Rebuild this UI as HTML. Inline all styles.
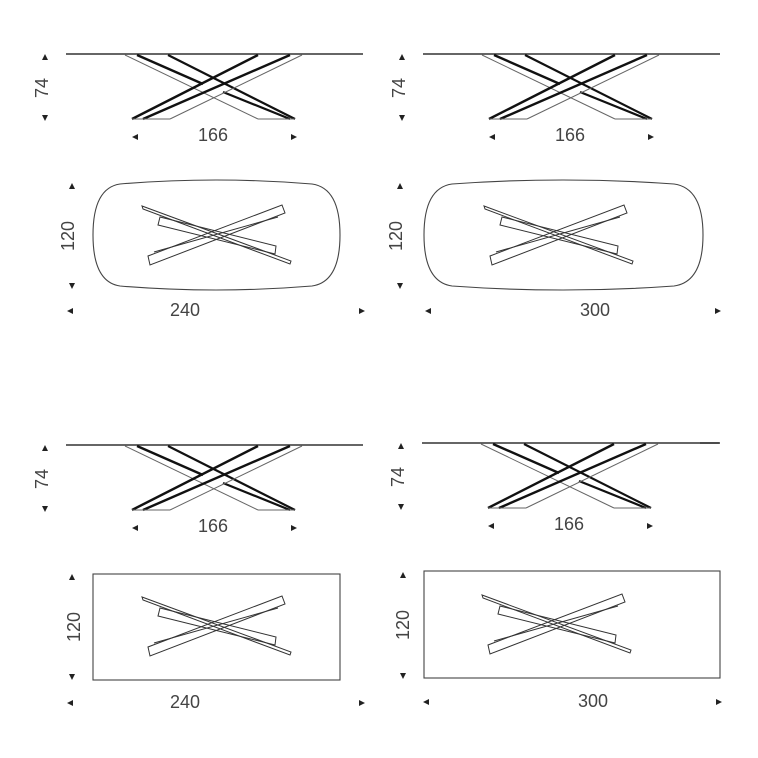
<!DOCTYPE html>
<html><head><meta charset="utf-8"><style>
html,body{margin:0;padding:0;background:#fff;}
svg{display:block;}
text{font-family:"Liberation Sans",sans-serif;fill:#444;font-size:18px;}
</style></head><body>
<svg width="758" height="758" viewBox="0 0 758 758" xmlns="http://www.w3.org/2000/svg">
<defs>
<g id="side">
  <line x1="66" y1="54" x2="363" y2="54" stroke="#333" stroke-width="1.6"/>
  <polyline points="125,55 258,119" fill="none" stroke="#666" stroke-width="1"/>
  <line x1="137" y1="55" x2="203" y2="84" stroke="#111" stroke-width="2.4"/>
  <line x1="168" y1="55" x2="295" y2="119" stroke="#111" stroke-width="2.2"/>
  <line x1="223" y1="92" x2="290" y2="119" stroke="#111" stroke-width="2.2"/>
  <line x1="258" y1="119" x2="295" y2="119" stroke="#666" stroke-width="1"/>
  <line x1="258" y1="55" x2="132" y2="119" stroke="#111" stroke-width="2.4"/>
  <line x1="290" y1="55" x2="143" y2="119" stroke="#111" stroke-width="2.4"/>
  <line x1="302" y1="55" x2="170" y2="119" stroke="#666" stroke-width="1"/>
  <line x1="132" y1="119" x2="170" y2="119" stroke="#666" stroke-width="1"/>
  <polygon points="42,60 48,60 45,54" fill="#222"/>
  <polygon points="42,115 48,115 45,121" fill="#222"/>
  <text transform="translate(48,88) rotate(-90)" text-anchor="middle">74</text>
  <polygon points="138,134 138,140 132,137" fill="#222"/>
  <polygon points="291,134 291,140 297,137" fill="#222"/>
  <text x="213" y="141" text-anchor="middle">166</text>
</g>
<g id="legs" fill="none" stroke="#333" stroke-width="1">
  <polygon points="142,206 143,209 290,264 291,261"/>
  <polygon points="160,217 158,225 275,254 276,246"/>
  <polygon points="148,256 150,265 285,213 282,205"/>
  <line x1="154" y1="252" x2="278" y2="217"/>
</g>
</defs>

<use href="#side"/>
<path d="M120,184 Q216,176 312,184 Q340,188 340,235 Q340,282 312,286 Q216,294 120,286 Q93,282 93,235 Q93,188 120,184 Z" fill="none" stroke="#444" stroke-width="1.1"/>
<use href="#legs"/>
<polygon points="69,189 75,189 72,183" fill="#222"/>
<polygon points="69,283 75,283 72,289" fill="#222"/>
<text transform="translate(74,236) rotate(-90)" text-anchor="middle">120</text>
<polygon points="73,308 73,314 67,311" fill="#222"/>
<polygon points="359,308 359,314 365,311" fill="#222"/>
<text x="185" y="316" text-anchor="middle">240</text>

<use href="#side" transform="translate(357,0)"/>
<path d="M452,184 Q563,176 674,184 Q703,188 703,235 Q703,282 674,286 Q563,294 452,286 Q424,282 424,235 Q424,188 452,184 Z" fill="none" stroke="#444" stroke-width="1.1"/>
<use href="#legs" transform="translate(342,0)"/>
<polygon points="397,189 403,189 400,183" fill="#222"/>
<polygon points="397,283 403,283 400,289" fill="#222"/>
<text transform="translate(402,236) rotate(-90)" text-anchor="middle">120</text>
<polygon points="431,308 431,314 425,311" fill="#222"/>
<polygon points="715,308 715,314 721,311" fill="#222"/>
<text x="595" y="316" text-anchor="middle">300</text>

<use href="#side" transform="translate(0,391)"/>
<rect x="93" y="574" width="247" height="106" fill="none" stroke="#444" stroke-width="1.1"/>
<use href="#legs" transform="translate(0,391)"/>
<polygon points="69,580 75,580 72,574" fill="#222"/>
<polygon points="69,674 75,674 72,680" fill="#222"/>
<text transform="translate(80,627) rotate(-90)" text-anchor="middle">120</text>
<polygon points="73,700 73,706 67,703" fill="#222"/>
<polygon points="359,700 359,706 365,703" fill="#222"/>
<text x="185" y="708" text-anchor="middle">240</text>

<use href="#side" transform="translate(356,389)"/>
<line x1="700" y1="443" x2="720" y2="443" stroke="#333" stroke-width="1.6"/>
<rect x="424" y="571" width="296" height="107" fill="none" stroke="#444" stroke-width="1.1"/>
<use href="#legs" transform="translate(340,389)"/>
<polygon points="400,578 406,578 403,572" fill="#222"/>
<polygon points="400,673 406,673 403,679" fill="#222"/>
<text transform="translate(409,625) rotate(-90)" text-anchor="middle">120</text>
<polygon points="429,699 429,705 423,702" fill="#222"/>
<polygon points="716,699 716,705 722,702" fill="#222"/>
<text x="593" y="707" text-anchor="middle">300</text>
</svg>
</body></html>
